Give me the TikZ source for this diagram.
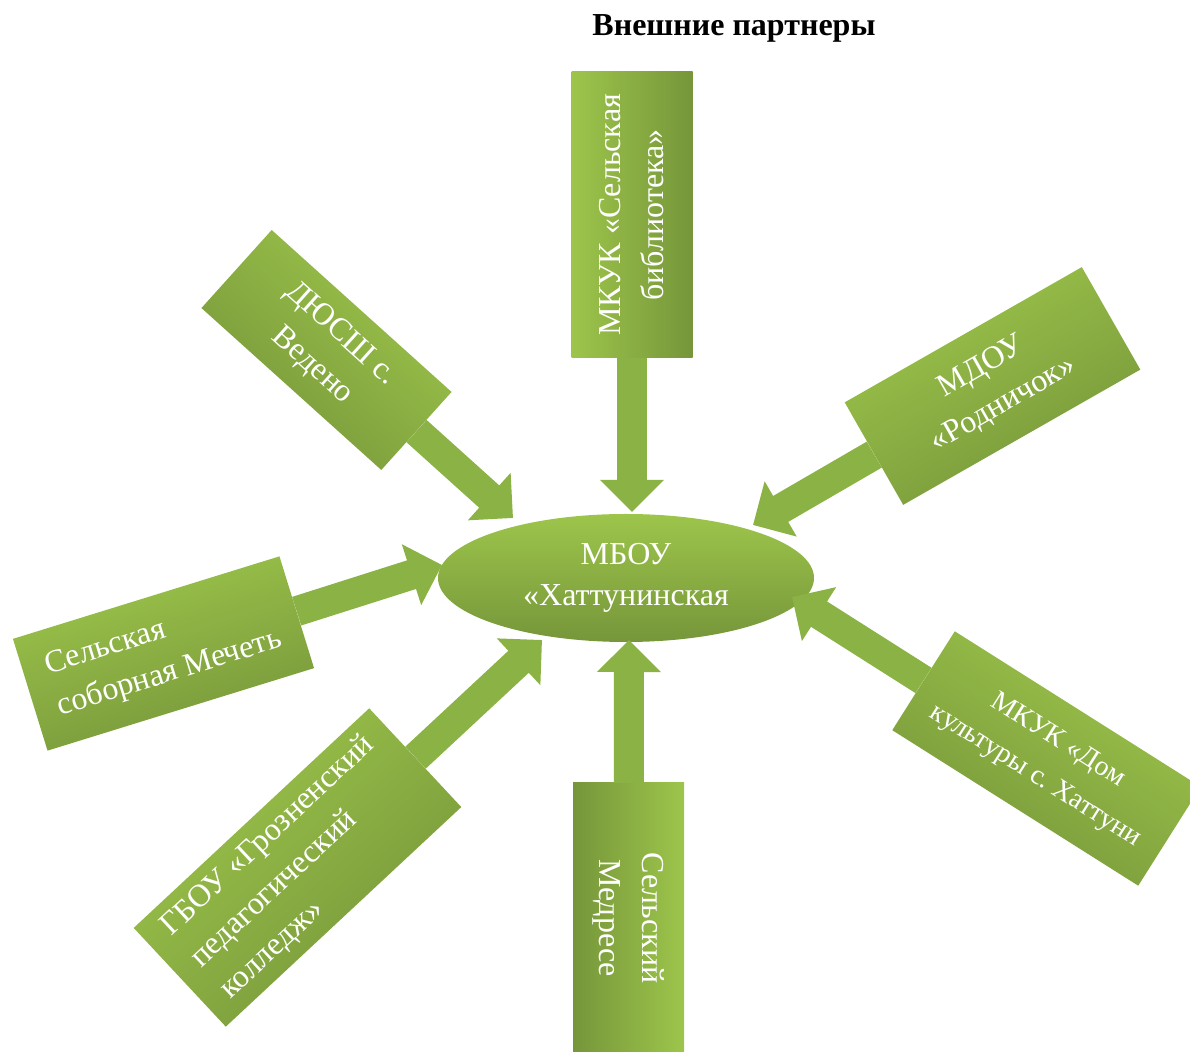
\documentclass[tikz,border=0pt]{standalone}
\usepackage{fontspec}
\setmainfont{Liberation Serif}
\usetikzlibrary{arrows.meta,shapes.geometric}
\definecolor{leafLight}{HTML}{9DC54B}
\definecolor{leafDark}{HTML}{76963A}
\definecolor{leafMid}{HTML}{8BB244}
\frenchspacing

\begin{document}
\begin{tikzpicture}[x=1pt, y=1pt,
  partner/.style={rectangle, top color=leafLight, bottom color=leafDark, text=white, inner sep=4pt, font=\fontsize{32}{43}\selectfont},
  hub/.style={ellipse, top color=leafLight, bottom color=leafDark, minimum width=376pt, minimum height=128pt, text=white, align=center, font=\fontsize{32}{41}\selectfont},
  link/.style={leafMid, line width=30pt, -{Triangle[width=62pt, length=32pt]}}]
\clip (0,0) rectangle (1190,1051);

\node[font=\bfseries\fontsize{32}{38}\selectfont] (title) at (734,1023) {Внешние партнеры};

% Centre
\node[hub] (hub) at (626,473) {МБОУ\\«Хаттунинская};

% Partners
\node[partner, rotate=90, shading angle=90, minimum width=286pt, minimum height=121pt, align=center] (lib) at (632,836) {МКУК «Сельская\\библиотека»};
\node[partner, rotate=29.7, shading angle=29.7, minimum width=273pt, minimum height=118pt, align=center] (kinder) at (992.5,665) {МДОУ\\«Родничок»};
\node[partner, rotate=-32.3, shading angle=-32.3, minimum width=291pt, minimum height=117pt, align=center, font=\fontsize{28}{42}\selectfont] (culture) at (1046.5,292.5) {МКУК «Дом\\культуры с. Хаттуни};
\node[partner, rotate=-90, shading angle=-90, minimum width=270pt, minimum height=111pt, align=center] (madrasa) at (628.5,133) {Сельский\\Медресе};
\node[partner, rotate=43, shading angle=43, minimum width=322pt, minimum height=135pt, align=left] (college) at (297.5,183.5) {ГБОУ «Грозненский\\педагогический\\колледж»};
\node[partner, rotate=17.2, shading angle=17.2, minimum width=279pt, minimum height=117pt, align=left] (mosque) at (163.5,397.5) {Сельская\\соборная Мечеть};
\node[partner, rotate=-42, shading angle=-42, minimum width=242pt, minimum height=105pt, align=center] (sport) at (326.5,701) {ДЮСШ с.\\Ведено};

% Arrow tips on the ellipse
\coordinate (lib-tip) at (632,539);
\coordinate (kinder-tip) at (753,526);
\coordinate (culture-tip) at (792,454);
\coordinate (madrasa-tip) at (629,411);
\coordinate (college-tip) at (542,411);
\coordinate (mosque-tip) at (442,486);
\coordinate (sport-tip) at (513,533);

% Arrows
\draw[link] (lib) -- (lib-tip);
\draw[link] (kinder) -- (kinder-tip);
\draw[link] (culture) -- (culture-tip);
\draw[link] (madrasa) -- (madrasa-tip);
\draw[link] (college) -- (college-tip);
\draw[link] (mosque) -- (mosque-tip);
\draw[link] (sport) -- (sport-tip);
\end{tikzpicture}
\end{document}
